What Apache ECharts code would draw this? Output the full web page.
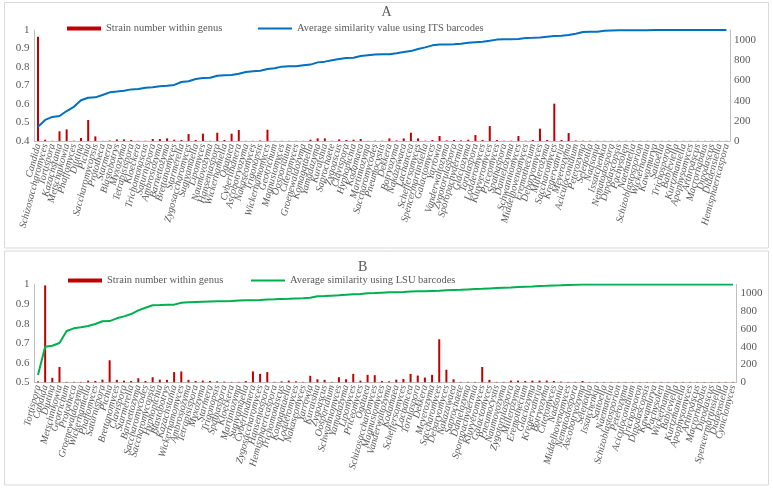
<!DOCTYPE html>
<html>
<head>
<meta charset="utf-8">
<script src="https://cdn.jsdelivr.net/npm/echarts@6/dist/echarts.min.js"></script>
<style>
html,body{margin:0;padding:0;background:#fff;}
#chart{width:773px;height:490px;}
</style>
</head>
<body>
<div id="chart"></div>
<script>
const catsA = ["Candida","Schizosaccharomyces","Tortispora","Kazachstania","Metschnikowia","Phaffomyces","Diutina","Pichia","Saccharomycopsis","Prototheca",
"Starmera","Blastobotrys","Myxozyma","Tetrapisispora","Kloeckera","Trichomonascus","Saturnispora","Ambrosiozyma","Barnettozyma","Brettanomyces",
"Starmerella","Zygosaccharomyces","Sugiyamaella","Lipomyces","Naumovozyma","Hanseniaspora","Wickerhamiella","Ogataea","Cyberlindnera","Ascobotryozyma",
"Nakaseomyces","Trigonopsis","Wickerhamomyces","Geotrichum","Magnusiomyces","Oosporidium","Citeromyces","Groenewaldozyma","Komagataella","Yamadazyma",
"Kuraishia","Saprochaete","Zygoascus","Clavispora","Hyphopichia","Kodamaea","Martiniozyma","Saccharomycodes","Pneumocystis","Dekkera",
"Botryozyma","Nakazawaea","Lachancea","Scheffersomyces","Spencermartinsiella","Galactomyces","Yarrowia","Vanderwaltozyma","Zygotorulaspora","Sporopachydermia",
"Glaciozyma","Torulaspora","Lodderomyces","Kluyveromyces","Priceomyces","Spathaspora","Danielozyma","Schwanniomyces","Middelhovenomyces","Eremothecium",
"Debaryomyces","Millerozyma","Saccharomyces","Kregervanrija","Meyerozyma","Aciculoconidium","Peterozyma","Selenotila","Nadsonia","Issatchenkia",
"Nematodospora","Dipodascopsis","Pachysolen","Naematelia","Schizoblastosporion","Wickerhamia","Kawamurya","Saitoella","Trichosporon","Babjeviella",
"Kurtzmaniella","Apophysomyces","Arthroascus","Macrorhabdus","Dipodascus","Diddensiella","Hemisphaericaspora"];
const strainsA = [1033,13,2,96,115,3,30,208,46,2,
5,16,16,10,2,3,20,20,26,13,
10,69,10,73,2,82,10,73,109,2,
2,6,112,2,2,2,2,2,13,26,
26,2,16,10,13,20,2,3,3,26,
6,26,82,26,3,10,50,6,10,6,
13,59,10,148,10,3,3,50,3,10,
122,10,370,10,79,5,3,3,2,2,
2,2,2,3,2,2,2,2,2,2,
2,2,2,2,2,2,2];
const simITS = [0.477,0.514,0.530,0.535,0.562,0.585,0.620,0.634,0.636,0.649,
0.663,0.667,0.672,0.679,0.681,0.688,0.690,0.696,0.699,0.703,
0.719,0.723,0.735,0.741,0.742,0.753,0.755,0.757,0.764,0.773,
0.777,0.780,0.789,0.793,0.802,0.804,0.804,0.809,0.813,0.825,
0.829,0.836,0.843,0.849,0.850,0.859,0.863,0.867,0.869,0.869,
0.874,0.881,0.886,0.897,0.906,0.917,0.921,0.921,0.923,0.926,
0.931,0.934,0.937,0.942,0.948,0.950,0.950,0.951,0.957,0.958,
0.960,0.964,0.968,0.969,0.973,0.980,0.989,0.991,0.991,0.996,
0.997,0.998,0.998,0.999,0.999,0.999,1,1,1,1,
1,1,1,1,1,1,1];

const catsB = ["Tortispora","Candida","Diutina","Metschnikowia","Geotrichum","Prototheca","Groenewaldozyma","Wickerhamiella","Phaffomyces","Saturnispora",
"Pichia","Brettanomyces","Clavispora","Starmerella","Barnettozyma","Saccharomycodes","Saccharomycopsis","Hyphopichia","Blastobotrys","Kazachstania",
"Wickerhamomyces","Ambrosiozyma","Tetrapisispora","Myxozyma","Starmera","Trigonopsis","Spathaspora","Kloeckera","Martiniozyma","Sugiyamaella",
"Cyberlindnera","Zygosaccharomyces","Hanseniaspora","Hemisphaericaspora","Trichomonascus","Komagataella","Lodderomyces","Nakaseomyces","Yarrowia","Kuraishia",
"Zygoascus","Oosporidium","Schwanniomyces","Yamadazyma","Lipomyces","Priceomyces","Ogataea","Schizosaccharomyces","Magnusiomyces","Vanderwaltozyma",
"Kodamaea","Scheffersomyces","Lachancea","Torulaspora","Dekkera","Meyerozyma","Saccharomyces","Debaryomyces","Nakazawaea","Saprochaete",
"Danielozyma","Sporopachydermia","Kluyveromyces","Galactomyces","Pneumocystis","Naumovozyma","Zygotorulaspora","Millerozyma","Eremothecium","Glaciozyma",
"Kregervanrija","Botryozyma","Citeromyces","Nadsonia","Middelhovenomyces","Nematodospora","Ascobotryozyma","Selenotila","Issatchenkia","Saitoella",
"Naematelia","Schizoblastosporion","Peterozyma","Aciculoconidium","Trichosporon","Dipodascopsis","Kawamurya","Pachysolen","Wickerhamia","Babjeviella",
"Kurtzmaniella","Apophysomyces","Arthroascus","Macrorhabdus","Dipodascus","Spencermartinsiella","Diddensiella","Cyniclomyces"];
const strainsB = [10,1090,50,172,5,5,5,19,15,30,
248,27,19,15,46,15,57,30,27,115,
122,27,15,19,15,11,8,5,5,15,
122,95,115,5,11,19,11,5,73,34,
27,5,57,34,95,19,84,80,15,11,
30,38,95,76,53,84,484,141,34,5,
5,5,172,27,5,5,19,19,15,19,
19,19,15,8,5,5,15,4,4,4,
4,4,4,4,4,4,4,4,4,4,
4,4,4,4,4,4,4,4];
const simLSU = [0.537,0.682,0.687,0.701,0.762,0.776,0.781,0.788,0.798,0.812,
0.813,0.827,0.837,0.849,0.868,0.881,0.894,0.895,0.897,0.897,
0.907,0.909,0.911,0.912,0.913,0.914,0.915,0.916,0.918,0.919,
0.920,0.921,0.923,0.924,0.926,0.927,0.929,0.930,0.932,0.940,
0.941,0.943,0.945,0.948,0.950,0.952,0.955,0.956,0.958,0.960,
0.961,0.962,0.964,0.965,0.966,0.967,0.968,0.970,0.972,0.973,
0.975,0.977,0.978,0.980,0.982,0.984,0.985,0.987,0.989,0.990,
0.992,0.993,0.995,0.996,0.998,0.999,1,1,1,1,
1,1,1,1,1,1,1,1,1,1,
1,1,1,1,1,1,1,1];

const FONT = "'Liberation Serif','Times New Roman',serif";
const TXT = '#595959';
const AXIS = '#bfbfbf';
const BAR_A = 'Strain number within genus';
const BAR_B = 'Strain number within genus ';
const LINE_A = 'Average similarity value using ITS barcodes';
const LINE_B = 'Average similarity using LSU barcodes';

function catAxis(grid, data) {
  return {
    type: 'category', gridIndex: grid, data: data,
    axisLine: {show: true, lineStyle: {color: AXIS}},
    axisTick: {show: false},
    axisLabel: {interval: 0, rotate: 75, fontStyle: 'italic', fontSize: 10, color: TXT, fontFamily: FONT, margin: 3}
  };
}
function leftAxis(grid, min) {
  return {
    type: 'value', gridIndex: grid, position: 'left', min: min, max: 1, interval: 0.1,
    axisLine: {show: true, lineStyle: {color: AXIS}}, axisTick: {show: false}, splitLine: {show: false},
    axisLabel: {fontSize: 11, color: TXT, fontFamily: FONT, margin: 5,
      formatter: v => String(Math.round(v * 10) / 10)}
  };
}
function rightAxis(grid) {
  return {
    type: 'value', gridIndex: grid, position: 'right', min: 0, max: 1100, interval: 200,
    axisLine: {show: true, lineStyle: {color: AXIS}}, axisTick: {show: false}, splitLine: {show: false},
    axisLabel: {fontSize: 11, color: TXT, fontFamily: FONT, margin: 4, showMaxLabel: false,
      formatter: v => String(Math.round(v))}
  };
}
function legendItem(name, left, top, h) {
  return {data: [name], left: left, top: top, padding: 0, icon: 'rect',
    itemWidth: 34, itemHeight: h,
    textStyle: {fontSize: 10.5, color: TXT, fontFamily: FONT}};
}

const chart = echarts.init(document.getElementById('chart'), null, {renderer: 'canvas'});
chart.setOption({
  animation: false,
  textStyle: {fontFamily: FONT},
  title: [
    {text: 'A', left: 'center', top: 5, padding: 0, textStyle: {fontSize: 14, fontWeight: 'normal', color: TXT, fontFamily: FONT}},
    {text: 'B', left: 358, top: 260, padding: 0, textStyle: {fontSize: 14, fontWeight: 'normal', color: TXT, fontFamily: FONT}}
  ],
  legend: [
    legendItem(BAR_A, 67, 23, 4),
    legendItem(LINE_A, 258, 23, 2),
    legendItem(BAR_B, 68, 275, 4),
    legendItem(LINE_B, 251, 275, 2)
  ],
  grid: [
    {left: 34.4, right: 43, top: 30, height: 111},
    {left: 34.4, right: 36.4, top: 284.5, height: 97.8}
  ],
  xAxis: [catAxis(0, catsA), catAxis(1, catsB)],
  yAxis: [leftAxis(0, 0.4), rightAxis(0), leftAxis(1, 0.5), rightAxis(1)],
  series: [
    {name: BAR_A, type: 'bar', xAxisIndex: 0, yAxisIndex: 1, data: strainsA,
     barWidth: 2, itemStyle: {color: '#C00000'}},
    {name: LINE_A, type: 'line', xAxisIndex: 0, yAxisIndex: 0, data: simITS,
     symbol: 'none', lineStyle: {color: '#0070C0', width: 2}, itemStyle: {color: '#0070C0'}},
    {name: BAR_B, type: 'bar', xAxisIndex: 1, yAxisIndex: 3, data: strainsB,
     barWidth: 2, itemStyle: {color: '#C00000'}},
    {name: LINE_B, type: 'line', xAxisIndex: 1, yAxisIndex: 2, data: simLSU,
     symbol: 'none', lineStyle: {color: '#00B050', width: 2}, itemStyle: {color: '#00B050'}}
  ],
  graphic: [
    {type: 'rect', shape: {x: 4.5, y: 2.5, width: 764, height: 245.5}, style: {fill: 'none', stroke: '#d9d9d9', lineWidth: 1}, silent: true},
    {type: 'rect', shape: {x: 4.5, y: 251, width: 764, height: 234}, style: {fill: 'none', stroke: '#d9d9d9', lineWidth: 1}, silent: true}
  ]
});
</script>
</body>
</html>
